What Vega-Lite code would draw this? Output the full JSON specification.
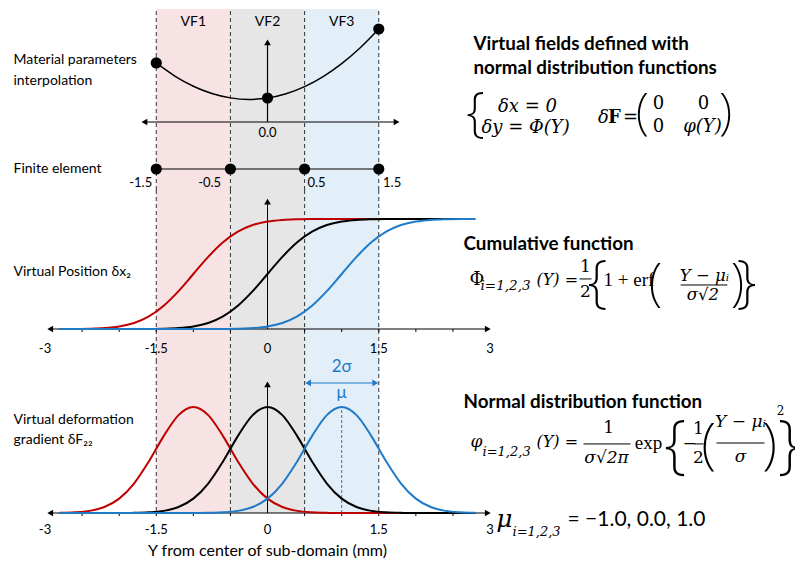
{
  "$schema": "https://vega.github.io/schema/vega-lite/v6.json",
  "background": "white",
  "padding": 0,
  "spacing": 0,
  "bounds": "flush",
  "config": {"view": {"stroke": null}},
  "datasets": {
    "curves": [
      {"x":-2.8,"s":"VF1","c":0.0002,"p":0.001},{"x":-2.6,"s":"VF1","c":0.0007,"p":0.005},{"x":-2.4,"s":"VF1","c":0.0026,"p":0.016},{"x":-2.2,"s":"VF1","c":0.0082,"p":0.045},{"x":-2.0,"s":"VF1","c":0.0228,"p":0.108},{"x":-1.8,"s":"VF1","c":0.0548,"p":0.222},{"x":-1.6,"s":"VF1","c":0.1151,"p":0.388},{"x":-1.4,"s":"VF1","c":0.2119,"p":0.579},{"x":-1.2,"s":"VF1","c":0.3446,"p":0.737},{"x":-1.0,"s":"VF1","c":0.5,"p":0.798},{"x":-0.8,"s":"VF1","c":0.6554,"p":0.737},{"x":-0.6,"s":"VF1","c":0.7881,"p":0.579},{"x":-0.4,"s":"VF1","c":0.8849,"p":0.388},{"x":-0.2,"s":"VF1","c":0.9452,"p":0.222},{"x":0.0,"s":"VF1","c":0.9772,"p":0.108},{"x":0.2,"s":"VF1","c":0.9918,"p":0.045},{"x":0.4,"s":"VF1","c":0.9974,"p":0.016},{"x":0.6,"s":"VF1","c":0.9993,"p":0.005},{"x":0.8,"s":"VF1","c":0.9998,"p":0.001},{"x":1.0,"s":"VF1","c":1,"p":0},{"x":1.2,"s":"VF1","c":1,"p":0},{"x":1.4,"s":"VF1","c":1,"p":0},{"x":1.6,"s":"VF1","c":1,"p":0},{"x":1.8,"s":"VF1","c":1,"p":0},{"x":2.0,"s":"VF1","c":1,"p":0},{"x":2.2,"s":"VF1","c":1,"p":0},{"x":2.4,"s":"VF1","c":1,"p":0},{"x":2.6,"s":"VF1","c":1,"p":0},{"x":2.8,"s":"VF1","c":1,"p":0},
      {"x":-2.8,"s":"VF2","c":0,"p":0},{"x":-2.6,"s":"VF2","c":0,"p":0},{"x":-2.4,"s":"VF2","c":0,"p":0},{"x":-2.2,"s":"VF2","c":0,"p":0},{"x":-2.0,"s":"VF2","c":0,"p":0},{"x":-1.8,"s":"VF2","c":0.0002,"p":0.001},{"x":-1.6,"s":"VF2","c":0.0007,"p":0.005},{"x":-1.4,"s":"VF2","c":0.0026,"p":0.016},{"x":-1.2,"s":"VF2","c":0.0082,"p":0.045},{"x":-1.0,"s":"VF2","c":0.0228,"p":0.108},{"x":-0.8,"s":"VF2","c":0.0548,"p":0.222},{"x":-0.6,"s":"VF2","c":0.1151,"p":0.388},{"x":-0.4,"s":"VF2","c":0.2119,"p":0.579},{"x":-0.2,"s":"VF2","c":0.3446,"p":0.737},{"x":0.0,"s":"VF2","c":0.5,"p":0.798},{"x":0.2,"s":"VF2","c":0.6554,"p":0.737},{"x":0.4,"s":"VF2","c":0.7881,"p":0.579},{"x":0.6,"s":"VF2","c":0.8849,"p":0.388},{"x":0.8,"s":"VF2","c":0.9452,"p":0.222},{"x":1.0,"s":"VF2","c":0.9772,"p":0.108},{"x":1.2,"s":"VF2","c":0.9918,"p":0.045},{"x":1.4,"s":"VF2","c":0.9974,"p":0.016},{"x":1.6,"s":"VF2","c":0.9993,"p":0.005},{"x":1.8,"s":"VF2","c":0.9998,"p":0.001},{"x":2.0,"s":"VF2","c":1,"p":0},{"x":2.2,"s":"VF2","c":1,"p":0},{"x":2.4,"s":"VF2","c":1,"p":0},{"x":2.6,"s":"VF2","c":1,"p":0},{"x":2.8,"s":"VF2","c":1,"p":0},
      {"x":-2.8,"s":"VF3","c":0,"p":0},{"x":-2.6,"s":"VF3","c":0,"p":0},{"x":-2.4,"s":"VF3","c":0,"p":0},{"x":-2.2,"s":"VF3","c":0,"p":0},{"x":-2.0,"s":"VF3","c":0,"p":0},{"x":-1.8,"s":"VF3","c":0,"p":0},{"x":-1.6,"s":"VF3","c":0,"p":0},{"x":-1.4,"s":"VF3","c":0,"p":0},{"x":-1.2,"s":"VF3","c":0,"p":0},{"x":-1.0,"s":"VF3","c":0,"p":0},{"x":-0.8,"s":"VF3","c":0.0002,"p":0.001},{"x":-0.6,"s":"VF3","c":0.0007,"p":0.005},{"x":-0.4,"s":"VF3","c":0.0026,"p":0.016},{"x":-0.2,"s":"VF3","c":0.0082,"p":0.045},{"x":0.0,"s":"VF3","c":0.0228,"p":0.108},{"x":0.2,"s":"VF3","c":0.0548,"p":0.222},{"x":0.4,"s":"VF3","c":0.1151,"p":0.388},{"x":0.6,"s":"VF3","c":0.2119,"p":0.579},{"x":0.8,"s":"VF3","c":0.3446,"p":0.737},{"x":1.0,"s":"VF3","c":0.5,"p":0.798},{"x":1.2,"s":"VF3","c":0.6554,"p":0.737},{"x":1.4,"s":"VF3","c":0.7881,"p":0.579},{"x":1.6,"s":"VF3","c":0.8849,"p":0.388},{"x":1.8,"s":"VF3","c":0.9452,"p":0.222},{"x":2.0,"s":"VF3","c":0.9772,"p":0.108},{"x":2.2,"s":"VF3","c":0.9918,"p":0.045},{"x":2.4,"s":"VF3","c":0.9974,"p":0.016},{"x":2.6,"s":"VF3","c":0.9993,"p":0.005},{"x":2.8,"s":"VF3","c":0.9998,"p":0.001}
    ]
  },
  "vconcat": [
    {
      "width": 795, "height": 190,
      "encoding": {
        "x": {"field": "x", "type": "quantitative", "scale": {"domain": [-3.607, 7.112], "nice": false, "zero": false}, "axis": null},
        "y": {"field": "y", "type": "quantitative", "scale": {"domain": [-1.7, 3.05], "nice": false, "zero": false}, "axis": null}
      },
      "layer": [
        {"data": {"values": [{"vf":"VF1","x":-1.5,"x2":-0.5,"y":2.825,"y2":-1.7},{"vf":"VF2","x":-0.5,"x2":0.5,"y":2.825,"y2":-1.7},{"vf":"VF3","x":0.5,"x2":1.5,"y":2.825,"y2":-1.7}]},
         "mark": {"type": "rect"},
         "encoding": {"x2": {"field": "x2"}, "y2": {"field": "y2"}, "fill": {"field": "vf", "type": "nominal", "scale": {"domain": ["VF1","VF2","VF3"], "range": ["#f7e3e3","#e6e6e6","#e2eef8"]}, "legend": null}}},
        {"data": {"values": [{"x":-1.5,"y":2.775,"y2":-1.7},{"x":-0.5,"y":2.775,"y2":-1.7},{"x":0.5,"y":2.775,"y2":-1.7},{"x":1.5,"y":2.775,"y2":-1.7}]},
         "mark": {"type": "rule", "color": "#333333", "strokeWidth": 1, "strokeDash": [4, 3]},
         "encoding": {"y2": {"field": "y2"}}},
        {"data": {"values": [{"x":-1.66,"x2":1.74,"y":0},{"x":-1.5,"x2":1.5,"y":-1.175}]},
         "mark": {"type": "rule", "color": "#000000", "strokeWidth": 1.2},
         "encoding": {"x2": {"field": "x2"}}},
        {"data": {"values": [{"x":0,"y":0,"y2":1.99}]},
         "mark": {"type": "rule", "color": "#000000", "strokeWidth": 1.2},
         "encoding": {"y2": {"field": "y2"}}},
        {"data": {"values": [{"x":-1.5,"y":1.476},{"x":-1.25,"y":1.149},{"x":-1.0,"y":0.895},{"x":-0.75,"y":0.713},{"x":-0.5,"y":0.603},{"x":-0.25,"y":0.565},{"x":0,"y":0.6},{"x":0.25,"y":0.707},{"x":0.5,"y":0.886},{"x":0.75,"y":1.137},{"x":1.0,"y":1.461},{"x":1.25,"y":1.857},{"x":1.5,"y":2.325}]},
         "mark": {"type": "line", "color": "#000000", "strokeWidth": 1.5, "interpolate": "monotone"}},
        {"data": {"values": [{"x":-1.5,"y":1.476},{"x":0,"y":0.6},{"x":1.5,"y":2.325},{"x":-1.5,"y":-1.175},{"x":-0.5,"y":-1.175},{"x":0.5,"y":-1.175},{"x":1.5,"y":-1.175}]},
         "mark": {"type": "point", "shape": "circle", "filled": true, "color": "#000000", "opacity": 1, "size": 125}},
        {"data": {"values": [{"x":-1.66,"y":0,"dir":"left"},{"x":1.74,"y":0,"dir":"right"},{"x":0,"y":1.99,"dir":"up"}]},
         "mark": {"type": "point", "filled": true, "color": "#000000", "opacity": 1, "size": 45},
         "encoding": {"shape": {"field": "dir", "type": "nominal", "scale": {"domain": ["left","right","up"], "range": ["triangle-left","triangle-right","triangle-up"]}, "legend": null}}},
        {"data": {"values": [{"x":-1,"y":2.5,"t":"VF1"},{"x":0,"y":2.5,"t":"VF2"},{"x":1,"y":2.5,"t":"VF3"}]},
         "mark": {"type": "text", "font": "Lato", "fontSize": 14, "align": "center", "baseline": "middle", "color": "#000000"},
         "encoding": {"text": {"field": "t"}}},
        {"data": {"values": [{"x":0,"y":-0.275,"t":"0.0"},{"x":-1.71,"y":-1.525,"t":"-1.5"},{"x":-0.78,"y":-1.525,"t":"-0.5"},{"x":0.66,"y":-1.525,"t":"0.5"},{"x":1.68,"y":-1.525,"t":"1.5"}]},
         "mark": {"type": "text", "font": "Lato", "fontSize": 13, "align": "center", "baseline": "middle", "color": "#000000"},
         "encoding": {"text": {"field": "t"}}},
        {"data": {"values": [{"x":-3.425,"y":1.55,"t":"Material parameters"},{"x":-3.425,"y":1.025,"t":"interpolation"},{"x":-3.425,"y":-1.175,"t":"Finite element"}]},
         "mark": {"type": "text", "font": "Lato", "fontSize": 14, "align": "left", "baseline": "middle", "color": "#000000"},
         "encoding": {"text": {"field": "t"}}},
        {"data": {"values": [{"x":2.777,"y":1.95,"t":"Virtual fields defined with"},{"x":2.777,"y":1.35,"t":"normal distribution functions"}]},
         "mark": {"type": "text", "font": "Lato", "fontSize": 18.8, "fontWeight": "bold", "align": "left", "baseline": "middle", "color": "#000000"},
         "encoding": {"text": {"field": "t"}}},
        {"data": {"values": [{"x":3.505,"y":0.375,"t":"δx = 0"},{"x":3.479,"y":-0.15,"t":"δy = Φ(Y)"},{"x":4.53,"y":0.1,"t":"δ"},{"x":5.865,"y":-0.125,"t":"φ(Y)"}]},
         "mark": {"type": "text", "font": "DejaVu Serif", "fontSize": 18, "fontStyle": "italic", "align": "center", "baseline": "middle", "color": "#000000"},
         "encoding": {"text": {"field": "t"}}},
        {"data": {"values": [{"x":4.894,"y":0.1,"t":"="},{"x":5.272,"y":0.45,"t":"0"},{"x":5.878,"y":0.45,"t":"0"},{"x":5.272,"y":-0.125,"t":"0"}]},
         "mark": {"type": "text", "font": "DejaVu Serif", "fontSize": 18, "align": "center", "baseline": "middle", "color": "#000000"},
         "encoding": {"text": {"field": "t"}}},
        {"data": {"values": [{"x":4.678,"y":0.1,"t":"F"}]},
         "mark": {"type": "text", "font": "DejaVu Serif", "fontSize": 18, "fontWeight": "bold", "align": "center", "baseline": "middle", "color": "#000000"},
         "encoding": {"text": {"field": "t"}}},
        {"data": {"values": [{"x":2.804,"y":0.2,"t":"{"}]},
         "mark": {"type": "text", "font": "Noto Sans", "fontSize": 54, "fontWeight": 200, "align": "center", "baseline": "middle", "color": "#000000"},
         "encoding": {"text": {"field": "t"}}},
        {"data": {"values": [{"x":5.055,"y":0.2,"t":"("},{"x":6.175,"y":0.2,"t":")"}]},
         "mark": {"type": "text", "font": "Noto Sans", "fontSize": 50, "fontWeight": 200, "align": "center", "baseline": "middle", "color": "#000000"},
         "encoding": {"text": {"field": "t"}}}
      ]
    },
    {
      "width": 795, "height": 170,
      "encoding": {
        "x": {"field": "x", "type": "quantitative", "scale": {"domain": [-3.607, 7.112], "nice": false, "zero": false}, "axis": null},
        "y": {"field": "y", "type": "quantitative", "scale": {"domain": [-0.2818, 1.2636], "nice": false, "zero": false}, "axis": null}
      },
      "layer": [
        {"data": {"values": [{"vf":"VF1","x":-1.5,"x2":-0.5,"y":1.2636,"y2":-0.2818},{"vf":"VF2","x":-0.5,"x2":0.5,"y":1.2636,"y2":-0.2818},{"vf":"VF3","x":0.5,"x2":1.5,"y":1.2636,"y2":-0.2818}]},
         "mark": {"type": "rect"},
         "encoding": {"x2": {"field": "x2"}, "y2": {"field": "y2"}, "fill": {"field": "vf", "type": "nominal", "scale": {"domain": ["VF1","VF2","VF3"], "range": ["#f7e3e3","#e6e6e6","#e2eef8"]}, "legend": null}}},
        {"data": {"values": [{"x":-1.5,"y":1.2636,"y2":-0.2818},{"x":-0.5,"y":1.2636,"y2":-0.2818},{"x":0.5,"y":1.2636,"y2":-0.2818},{"x":1.5,"y":1.2636,"y2":-0.2818}]},
         "mark": {"type": "rule", "color": "#333333", "strokeWidth": 1, "strokeDash": [4, 3]},
         "encoding": {"y2": {"field": "y2"}}},
        {"data": {"values": [{"x":-2.93,"x2":2.97,"y":0},{"x":4.206,"x2":4.368,"y":0.455},{"x":5.57,"x2":6.2,"y":0.4}]},
         "mark": {"type": "rule", "color": "#000000", "strokeWidth": 1},
         "encoding": {"x2": {"field": "x2"}}},
        {"data": {"values": [{"x":0,"y":0,"y2":1.158},{"x":-2.5,"y":0,"y2":-0.027},{"x":-2,"y":0,"y2":-0.027},{"x":-1.5,"y":0,"y2":-0.027},{"x":-1,"y":0,"y2":-0.027},{"x":-0.5,"y":0,"y2":-0.027},{"x":0.5,"y":0,"y2":-0.027},{"x":1,"y":0,"y2":-0.027},{"x":1.5,"y":0,"y2":-0.027},{"x":2,"y":0,"y2":-0.027},{"x":2.5,"y":0,"y2":-0.027}]},
         "mark": {"type": "rule", "color": "#000000", "strokeWidth": 1},
         "encoding": {"y2": {"field": "y2"}}},
        {"data": {"name": "curves"},
         "mark": {"type": "line", "strokeWidth": 2, "interpolate": "monotone"},
         "encoding": {
           "y": {"field": "c", "type": "quantitative", "scale": {"domain": [-0.2818, 1.2636], "nice": false, "zero": false}, "axis": null},
           "stroke": {"field": "s", "type": "nominal", "scale": {"domain": ["VF1","VF2","VF3"], "range": ["#c00000","#000000","#1f7ac8"]}, "legend": null}}},
        {"data": {"values": [{"x":-2.93,"y":0,"dir":"left"},{"x":2.97,"y":0,"dir":"right"},{"x":0,"y":1.158,"dir":"up"}]},
         "mark": {"type": "point", "filled": true, "color": "#000000", "opacity": 1, "size": 45},
         "encoding": {"shape": {"field": "dir", "type": "nominal", "scale": {"domain": ["left","right","up"], "range": ["triangle-left","triangle-right","triangle-up"]}, "legend": null}}},
        {"data": {"values": [{"x":-3,"y":-0.182,"t":"-3"},{"x":-1.5,"y":-0.182,"t":"-1.5"},{"x":0,"y":-0.182,"t":"0"},{"x":1.5,"y":-0.182,"t":"1.5"},{"x":3,"y":-0.182,"t":"3"}]},
         "mark": {"type": "text", "font": "Lato", "fontSize": 13, "align": "center", "baseline": "middle", "color": "#000000"},
         "encoding": {"text": {"field": "t"}}},
        {"data": {"values": [{"x":-3.425,"y":0.518,"t":"Virtual Position δx₂"}]},
         "mark": {"type": "text", "font": "Lato", "fontSize": 14, "align": "left", "baseline": "middle", "color": "#000000"},
         "encoding": {"text": {"field": "t"}}},
        {"data": {"values": [{"x":2.643,"y":0.773,"t":"Cumulative function"}]},
         "mark": {"type": "text", "font": "Lato", "fontSize": 18.8, "fontWeight": "bold", "align": "left", "baseline": "middle", "color": "#000000"},
         "encoding": {"text": {"field": "t"}}},
        {"data": {"values": [{"x":2.723,"y":0.445,"t":"Φ"}]},
         "mark": {"type": "text", "font": "DejaVu Serif", "fontSize": 18, "align": "left", "baseline": "middle", "color": "#000000"},
         "encoding": {"text": {"field": "t"}}},
        {"data": {"values": [{"x":2.872,"y":0.391,"t":"i=1,2,3"}]},
         "mark": {"type": "text", "font": "DejaVu Serif", "fontSize": 13.5, "fontStyle": "italic", "align": "left", "baseline": "middle", "color": "#000000"},
         "encoding": {"text": {"field": "t"}}},
        {"data": {"values": [{"x":3.627,"y":0.445,"t":"(Y) ="}]},
         "mark": {"type": "text", "font": "DejaVu Serif", "fontSize": 16, "fontStyle": "italic", "align": "left", "baseline": "middle", "color": "#000000"},
         "encoding": {"text": {"field": "t"}}},
        {"data": {"values": [{"x":5.89,"y":0.482,"t":"Y − μᵢ"},{"x":5.87,"y":0.309,"t":"σ√2"}]},
         "mark": {"type": "text", "font": "DejaVu Serif", "fontSize": 16.5, "fontStyle": "italic", "align": "center", "baseline": "middle", "color": "#000000"},
         "encoding": {"text": {"field": "t"}}},
        {"data": {"values": [{"x":4.287,"y":0.564,"t":"1"},{"x":4.287,"y":0.336,"t":"2"}]},
         "mark": {"type": "text", "font": "DejaVu Serif", "fontSize": 17, "align": "center", "baseline": "middle", "color": "#000000"},
         "encoding": {"text": {"field": "t"}}},
        {"data": {"values": [{"x":4.53,"y":0.445,"t":"1 + erf"}]},
         "mark": {"type": "text", "font": "Liberation Serif", "fontSize": 19, "align": "left", "baseline": "middle", "color": "#000000"},
         "encoding": {"text": {"field": "t"}}},
        {"data": {"values": [{"x":4.449,"y":0.409,"t":"{"},{"x":6.458,"y":0.409,"t":"}"}]},
         "mark": {"type": "text", "font": "Noto Sans", "fontSize": 58, "fontWeight": 200, "align": "center", "baseline": "middle", "color": "#000000"},
         "encoding": {"text": {"field": "t"}}},
        {"data": {"values": [{"x":5.231,"y":0.4,"t":"("},{"x":6.337,"y":0.4,"t":")"}]},
         "mark": {"type": "text", "font": "Noto Sans", "fontSize": 51, "fontWeight": 200, "align": "center", "baseline": "middle", "color": "#000000"},
         "encoding": {"text": {"field": "t"}}}
      ]
    },
    {
      "width": 795, "height": 204,
      "encoding": {
        "x": {"field": "x", "type": "quantitative", "scale": {"domain": [-3.607, 7.112], "nice": false, "zero": false}, "axis": null},
        "y": {"field": "y", "type": "quantitative", "scale": {"domain": [-0.384, 1.152], "nice": false, "zero": false}, "axis": null}
      },
      "layer": [
        {"data": {"values": [{"vf":"VF1","x":-1.5,"x2":-0.5,"y":1.152,"y2":0},{"vf":"VF2","x":-0.5,"x2":0.5,"y":1.152,"y2":0},{"vf":"VF3","x":0.5,"x2":1.5,"y":1.152,"y2":0}]},
         "mark": {"type": "rect"},
         "encoding": {"x2": {"field": "x2"}, "y2": {"field": "y2"}, "fill": {"field": "vf", "type": "nominal", "scale": {"domain": ["VF1","VF2","VF3"], "range": ["#f7e3e3","#e6e6e6","#e2eef8"]}, "legend": null}}},
        {"data": {"values": [{"x":-1.5,"y":1.152,"y2":0},{"x":-0.5,"y":1.152,"y2":0},{"x":0.5,"y":1.152,"y2":0},{"x":1.5,"y":1.152,"y2":0}]},
         "mark": {"type": "rule", "color": "#333333", "strokeWidth": 1, "strokeDash": [4, 3]},
         "encoding": {"y2": {"field": "y2"}}},
        {"data": {"values": [{"x":-2.93,"x2":2.97,"y":0},{"x":4.26,"x2":4.894,"y":0.52},{"x":5.757,"x2":5.878,"y":0.52},{"x":6.054,"x2":6.701,"y":0.527}]},
         "mark": {"type": "rule", "color": "#000000", "strokeWidth": 1},
         "encoding": {"x2": {"field": "x2"}}},
        {"data": {"values": [{"x":0,"y":0,"y2":0.968},{"x":-2.5,"y":0,"y2":-0.023},{"x":-2,"y":0,"y2":-0.023},{"x":-1.5,"y":0,"y2":-0.023},{"x":-1,"y":0,"y2":-0.023},{"x":-0.5,"y":0,"y2":-0.023},{"x":0.5,"y":0,"y2":-0.023},{"x":1,"y":0,"y2":-0.023},{"x":1.5,"y":0,"y2":-0.023},{"x":2,"y":0,"y2":-0.023},{"x":2.5,"y":0,"y2":-0.023}]},
         "mark": {"type": "rule", "color": "#000000", "strokeWidth": 1},
         "encoding": {"y2": {"field": "y2"}}},
        {"data": {"values": [{"x":1,"y":0,"y2":0.798}]},
         "mark": {"type": "rule", "color": "#1f7ac8", "strokeWidth": 1, "strokeDash": [3, 2]},
         "encoding": {"y2": {"field": "y2"}}},
        {"data": {"values": [{"x":0.547,"x2":1.453,"y":0.979}]},
         "mark": {"type": "rule", "color": "#1f7ac8", "strokeWidth": 1.2},
         "encoding": {"x2": {"field": "x2"}}},
        {"data": {"name": "curves"},
         "mark": {"type": "line", "strokeWidth": 2, "interpolate": "monotone"},
         "encoding": {
           "y": {"field": "p", "type": "quantitative", "scale": {"domain": [-0.384, 1.152], "nice": false, "zero": false}, "axis": null},
           "stroke": {"field": "s", "type": "nominal", "scale": {"domain": ["VF1","VF2","VF3"], "range": ["#c00000","#000000","#1f7ac8"]}, "legend": null}}},
        {"data": {"values": [{"x":-2.93,"y":0,"dir":"left"},{"x":2.97,"y":0,"dir":"right"},{"x":0,"y":0.968,"dir":"up"}]},
         "mark": {"type": "point", "filled": true, "color": "#000000", "opacity": 1, "size": 45},
         "encoding": {"shape": {"field": "dir", "type": "nominal", "scale": {"domain": ["left","right","up"], "range": ["triangle-left","triangle-right","triangle-up"]}, "legend": null}}},
        {"data": {"values": [{"x":0.547,"y":0.979,"dir":"left"},{"x":1.453,"y":0.979,"dir":"right"}]},
         "mark": {"type": "point", "filled": true, "color": "#1f7ac8", "opacity": 1, "size": 45},
         "encoding": {"shape": {"field": "dir", "type": "nominal", "scale": {"domain": ["left","right","up"], "range": ["triangle-left","triangle-right","triangle-up"]}, "legend": null}}},
        {"data": {"values": [{"x":-3,"y":-0.128,"t":"-3"},{"x":-1.5,"y":-0.128,"t":"-1.5"},{"x":0,"y":-0.128,"t":"0"},{"x":1.5,"y":-0.128,"t":"1.5"},{"x":3,"y":-0.128,"t":"3"}]},
         "mark": {"type": "text", "font": "Lato", "fontSize": 13, "align": "center", "baseline": "middle", "color": "#000000"},
         "encoding": {"text": {"field": "t"}}},
        {"data": {"values": [{"x":0,"y":-0.286,"t":"Y from center of sub-domain (mm)"}]},
         "mark": {"type": "text", "font": "Lato", "fontSize": 16, "align": "center", "baseline": "middle", "color": "#000000"},
         "encoding": {"text": {"field": "t"}}},
        {"data": {"values": [{"x":1,"y":1.1,"t":"2σ"},{"x":1,"y":0.904,"t":"μ"}]},
         "mark": {"type": "text", "font": "Lato", "fontSize": 17, "align": "center", "baseline": "middle", "color": "#1f7ac8"},
         "encoding": {"text": {"field": "t"}}},
        {"data": {"values": [{"x":-3.425,"y":0.7,"t":"Virtual deformation"},{"x":-3.425,"y":0.55,"t":"gradient δF₂₂"}]},
         "mark": {"type": "text", "font": "Lato", "fontSize": 14, "align": "left", "baseline": "middle", "color": "#000000"},
         "encoding": {"text": {"field": "t"}}},
        {"data": {"values": [{"x":2.643,"y":0.836,"t":"Normal distribution function"}]},
         "mark": {"type": "text", "font": "Lato", "fontSize": 18.8, "fontWeight": "bold", "align": "left", "baseline": "middle", "color": "#000000"},
         "encoding": {"text": {"field": "t"}}},
        {"data": {"values": [{"x":2.737,"y":0.535,"t":"φ"}]},
         "mark": {"type": "text", "font": "DejaVu Serif", "fontSize": 17, "fontStyle": "italic", "align": "left", "baseline": "middle", "color": "#000000"},
         "encoding": {"text": {"field": "t"}}},
        {"data": {"values": [{"x":3.627,"y":0.535,"t":"(Y) ="}]},
         "mark": {"type": "text", "font": "DejaVu Serif", "fontSize": 16, "fontStyle": "italic", "align": "left", "baseline": "middle", "color": "#000000"},
         "encoding": {"text": {"field": "t"}}},
        {"data": {"values": [{"x":2.899,"y":0.459,"t":"i=1,2,3"}]},
         "mark": {"type": "text", "font": "DejaVu Serif", "fontSize": 13, "fontStyle": "italic", "align": "left", "baseline": "middle", "color": "#000000"},
         "encoding": {"text": {"field": "t"}}},
        {"data": {"values": [{"x":4.571,"y":0.414,"t":"σ√2π"},{"x":6.377,"y":0.685,"t":"Y − μᵢ"},{"x":6.377,"y":0.422,"t":"σ"}]},
         "mark": {"type": "text", "font": "DejaVu Serif", "fontSize": 17, "fontStyle": "italic", "align": "center", "baseline": "middle", "color": "#000000"},
         "encoding": {"text": {"field": "t"}}},
        {"data": {"values": [{"x":4.598,"y":0.64,"t":"1"},{"x":5.69,"y":0.52,"t":"−"},{"x":5.811,"y":0.633,"t":"1"},{"x":5.811,"y":0.414,"t":"2"}]},
         "mark": {"type": "text", "font": "DejaVu Serif", "fontSize": 17, "align": "center", "baseline": "middle", "color": "#000000"},
         "encoding": {"text": {"field": "t"}}},
        {"data": {"values": [{"x":5.137,"y":0.527,"t":"exp"}]},
         "mark": {"type": "text", "font": "Liberation Serif", "fontSize": 19, "align": "center", "baseline": "middle", "color": "#000000"},
         "encoding": {"text": {"field": "t"}}},
        {"data": {"values": [{"x":6.917,"y":0.77,"t":"2"}]},
         "mark": {"type": "text", "font": "DejaVu Serif", "fontSize": 12, "align": "center", "baseline": "middle", "color": "#000000"},
         "encoding": {"text": {"field": "t"}}},
        {"data": {"values": [{"x":5.5,"y":0.497,"t":"{"},{"x":7.03,"y":0.497,"t":"}"}]},
         "mark": {"type": "text", "font": "Noto Sans", "fontSize": 64, "fontWeight": 200, "align": "center", "baseline": "middle", "color": "#000000"},
         "encoding": {"text": {"field": "t"}}},
        {"data": {"values": [{"x":5.946,"y":0.505,"t":"("},{"x":6.77,"y":0.505,"t":")"}]},
         "mark": {"type": "text", "font": "Noto Sans", "fontSize": 56, "fontWeight": 200, "align": "center", "baseline": "middle", "color": "#000000"},
         "encoding": {"text": {"field": "t"}}},
        {"data": {"values": [{"x":3.195,"y":-0.045,"t":"μ"}]},
         "mark": {"type": "text", "font": "DejaVu Serif", "fontSize": 25, "fontStyle": "italic", "align": "center", "baseline": "middle", "color": "#000000"},
         "encoding": {"text": {"field": "t"}}},
        {"data": {"values": [{"x":3.303,"y":-0.143,"t":"i=1,2,3"}]},
         "mark": {"type": "text", "font": "DejaVu Serif", "fontSize": 13, "fontStyle": "italic", "align": "left", "baseline": "middle", "color": "#000000"},
         "encoding": {"text": {"field": "t"}}},
        {"data": {"values": [{"x":4.045,"y":-0.053,"t":"= −1.0, 0.0, 1.0"}]},
         "mark": {"type": "text", "font": "Lato", "fontSize": 21, "align": "left", "baseline": "middle", "color": "#000000"},
         "encoding": {"text": {"field": "t"}}}
      ]
    }
  ]
}
